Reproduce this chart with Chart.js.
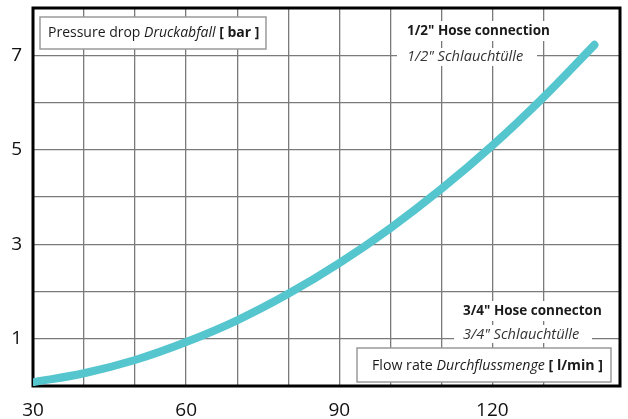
<!DOCTYPE html>
<html>
<head>
<meta charset="utf-8">
<script src="https://cdn.jsdelivr.net/npm/chart.js@4"></script>
<style>
html,body{margin:0;padding:0;background:#fff;}
#wrap{width:628px;height:419px;position:relative;}
</style>
</head>
<body>
<div id="wrap"><canvas id="c" width="628" height="419"></canvas></div>
<script>
// Data
const flowRate = [30, 40, 50, 60, 70, 80, 90, 100, 110, 120, 130, 140];          // l/min
const pressureDrop = [0.08, 0.27, 0.55, 0.93, 1.39, 1.95, 2.6, 3.34, 4.17, 5.09, 6.11, 7.22]; // bar
const xTickLabels = [30, 60, 90, 120];
const yTickLabels = [1, 3, 5, 7];

const FONT = "'Open Sans', 'Liberation Sans', sans-serif";

const annotations = {
  id: 'annotations',
  beforeDatasetsDraw(chart) {
    const ctx = chart.ctx, ca = chart.chartArea;
    const L = ca.left, T = ca.top;
    ctx.save();
    // border around plot area
    ctx.strokeStyle = '#000';
    ctx.lineWidth = 3;
    ctx.strokeRect(ca.left, ca.top, ca.right - ca.left, ca.bottom - ca.top);

    function runs(parts, x, y) {
      ctx.textBaseline = 'middle';
      ctx.textAlign = 'left';
      let cx = x;
      for (const p of parts) {
        ctx.font = p.font;
        ctx.fillStyle = p.color || '#1a1a1a';
        ctx.fillText(p.t, cx, y);
        cx += ctx.measureText(p.t).width;
      }
      return cx;
    }
    function whiteRect(x, y, w, h) {
      ctx.fillStyle = '#fff';
      ctx.fillRect(x, y, w, h);
    }
    function box(x, y, w, h) {
      ctx.fillStyle = '#fff';
      ctx.fillRect(x, y, w, h);
      ctx.strokeStyle = '#9a9a9a';
      ctx.lineWidth = 1.5;
      ctx.strokeRect(x, y, w, h);
    }
    const bld = "bold 13.5px " + FONT;
    const ita2 = "italic 14.6px " + FONT;

    // Y axis title box
    box(L + 7, T + 9, 226, 32);
    runs([{t: 'Pressure drop ', font: "14px " + FONT}, {t: 'Druckabfall', font: "italic 14px " + FONT}, {t: ' [ bar ]', font: "bold 14px " + FONT}], L + 15, T + 25);

    // 1/2" labels
    whiteRect(L + 366, T + 13, 156, 20);
    runs([{t: '1/2" Hose connection', font: bld}], L + 374, T + 23);
    whiteRect(L + 364, T + 40, 140, 18);
    runs([{t: '1/2" Schlauchtülle', font: ita2, color: '#333'}], L + 374, T + 49);

    // 3/4" labels
    whiteRect(L + 422, T + 293, 150, 20);
    runs([{t: '3/4" Hose connecton', font: bld}], L + 430, T + 303);
    whiteRect(L + 421, T + 317, 138, 18);
    runs([{t: '3/4" Schlauchtülle', font: ita2, color: '#333'}], L + 430, T + 326.5);

    // X axis title box
    box(L + 324, T + 340, 254, 34);
    runs([{t: 'Flow rate ', font: "14.2px " + FONT}, {t: 'Durchflussmenge', font: "italic 14.2px " + FONT}, {t: ' [ l/min ]', font: "bold 14.2px " + FONT}], L + 339, T + 358);
    ctx.restore();
  }
};

new Chart(document.getElementById('c'), {
  type: 'line',
  data: {
    datasets: [{
      data: flowRate.map((x, i) => ({x: x, y: pressureDrop[i]})),
      borderColor: '#55c5ce',
      borderWidth: 8,
      borderCapStyle: 'round',
      tension: 0.4,
      pointRadius: 0,
      fill: false,
      clip: 0
    }]
  },
  options: {
    responsive: false,
    animation: false,
    devicePixelRatio: 1,
    layout: {padding: {top: 8, right: 8, left: 0, bottom: 0}},
    plugins: {legend: {display: false}, tooltip: {enabled: false}},
    scales: {
      x: {
        type: 'linear',
        min: 30, max: 145,
        afterFit(s) { s.height = 33; s.paddingLeft = 0; s.paddingRight = 0; },
        border: {display: false},
        grid: {color: '#7a7a7a', lineWidth: 1.3, drawTicks: false},
        ticks: {
          stepSize: 10,
          padding: 13,
          maxRotation: 0,
          autoSkip: false,
          color: '#111',
          font: {size: 19, family: FONT},
          callback: v => xTickLabels.includes(v) ? String(v) : ''
        }
      },
      y: {
        type: 'linear',
        min: 0, max: 8,
        afterFit(s) { s.width = 33; s.paddingTop = 0; s.paddingBottom = 0; },
        border: {display: false},
        grid: {color: '#7a7a7a', lineWidth: 1.3, drawTicks: false},
        ticks: {
          stepSize: 1,
          padding: 11,
          autoSkip: false,
          color: '#111',
          font: {size: 19, family: FONT},
          callback: v => yTickLabels.includes(v) ? String(v) : ''
        }
      }
    }
  },
  plugins: [annotations]
});
</script>
</body>
</html>
